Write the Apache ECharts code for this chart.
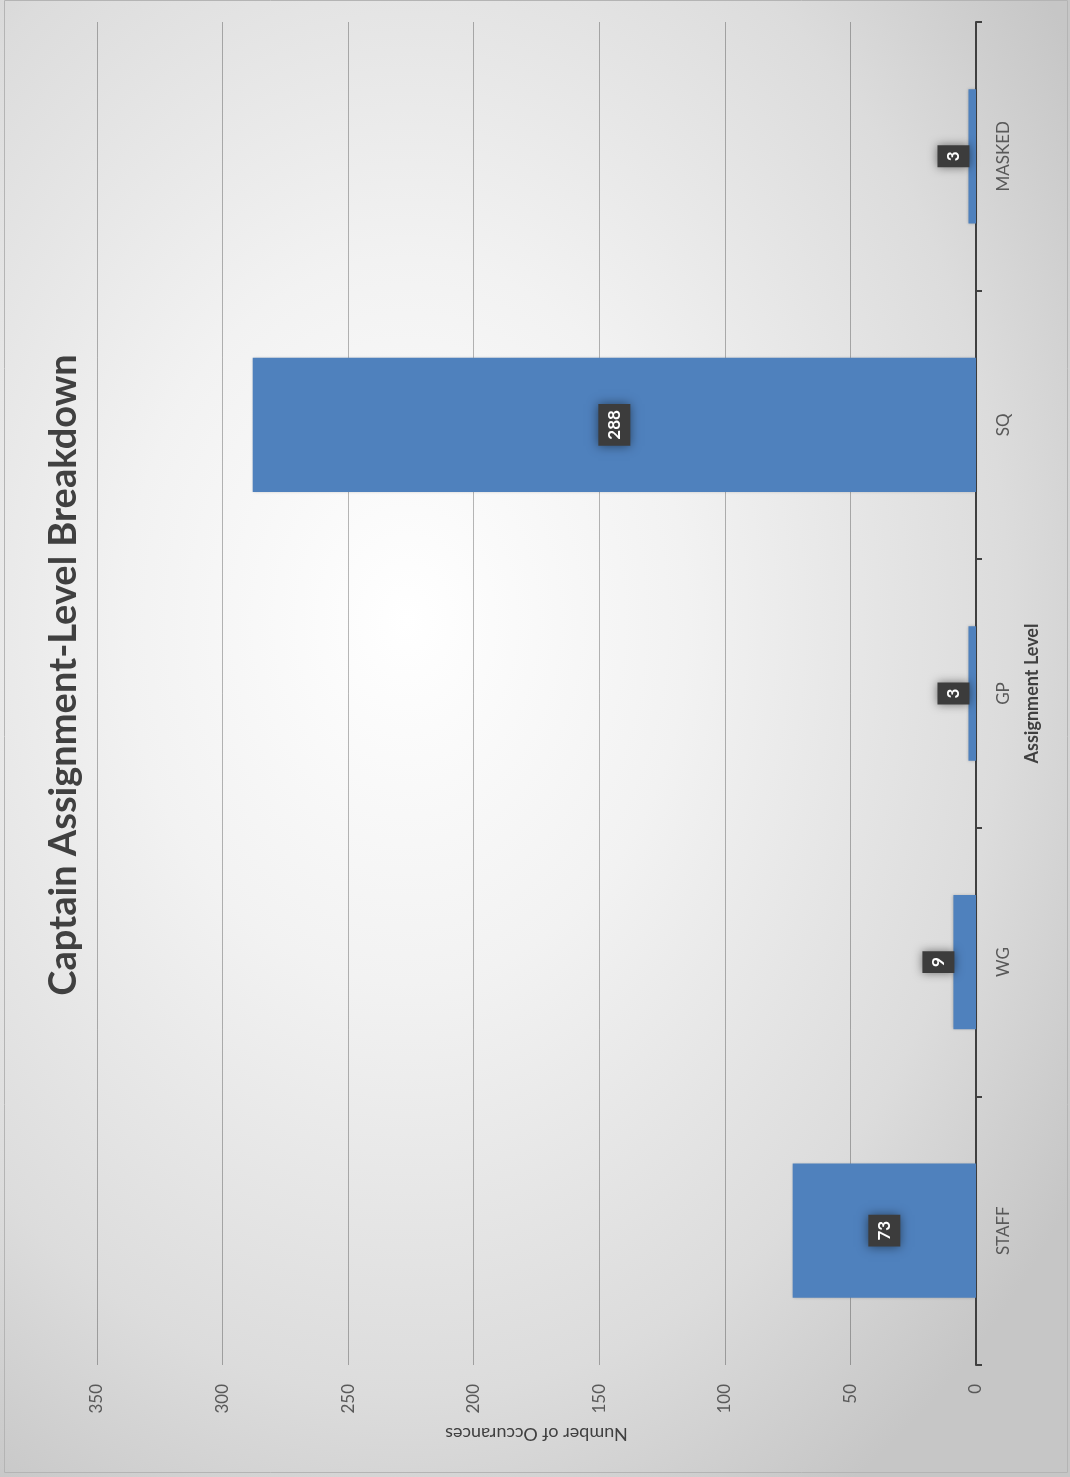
<!DOCTYPE html>
<html>
<head>
<meta charset="utf-8">
<script src="https://cdn.jsdelivr.net/npm/echarts@6/dist/echarts.min.js"></script>
<style>
  html, body { margin: 0; padding: 0; }
  body { width: 1070px; height: 1477px; background: #d4d4d4; }
  #chart {
    width: 1070px; height: 1477px;
    background: radial-gradient(ellipse 75% 70% at 38% 42%, #ffffff 0%, #f2f2f2 35%, #dcdcdc 75%, #c6c6c6 100%);
  }
</style>
</head>
<body>
<div id="chart"></div>
<script>
// Captain assignment levels and how often each occurs
const categories = ['STAFF', 'WG', 'GP', 'SQ', 'MASKED'];
const occurrences = [73, 9, 3, 288, 3];
const valueTicks = { min: 0, max: 350, interval: 50 };

const titleText = 'Captain Assignment-Level Breakdown';
const valueAxisName = 'Number of Occurances';
const categoryAxisName = 'Assignment Level';

const W = 1070, H = 1477;
const grid = { left: 97, right: 94, top: 22, bottom: 112 };
const pxPerUnit = (W - grid.left - grid.right) / valueTicks.max;

const FONT = 'Lato, "Open Sans", sans-serif';

// short bars get their value tag pushed just past the bar end;
// the label is turned 90°, so its own y axis runs along the value axis
function labelFor(v) {
  const lab = {};
  const barPx = v * pxPerUnit;
  if (barPx < 40) {
    lab.offset = [0, -(barPx / 2 + 15)];
  }
  return lab;
}

const chart = echarts.init(document.getElementById('chart'), null, { renderer: 'canvas' });

chart.setOption({
  backgroundColor: 'transparent',
  animation: false,
  grid: grid,
  graphic: [
    {
      type: 'rect',
      shape: { x: 4.5, y: 0.5, width: 1063, height: 1472 },
      style: { fill: 'none', stroke: '#b4b4b4', lineWidth: 1 },
      silent: true
    },
    {
      type: 'text',
      x: 64,
      y: 675,
      rotation: Math.PI / 2,
      style: {
        text: titleText,
        font: 'bold 38px ' + FONT,
        fill: '#404040',
        align: 'center',
        verticalAlign: 'middle'
      },
      silent: true
    }
  ],
  xAxis: {
    type: 'value',
    inverse: true,
    position: 'bottom',
    min: valueTicks.min,
    max: valueTicks.max,
    interval: valueTicks.interval,
    axisLine: { show: false },
    axisTick: { show: false },
    axisLabel: {
      rotate: 90,
      margin: 19,
      fontFamily: FONT,
      fontSize: 17,
      color: '#595959'
    },
    splitLine: { lineStyle: { color: 'rgba(0,0,0,0.28)', width: 1 } },
    name: valueAxisName,
    nameLocation: 'middle',
    nameRotate: 180,
    nameGap: 60,
    nameTextStyle: { fontFamily: FONT, fontSize: 18, color: '#404040', fontWeight: 'normal' }
  },
  yAxis: {
    type: 'category',
    position: 'right',
    data: categories,
    axisLine: { show: true, lineStyle: { color: '#404040', width: 2 } },
    axisTick: { show: true, length: 6, lineStyle: { color: '#404040', width: 2 } },
    axisLabel: {
      rotate: 90,
      margin: 19,
      fontFamily: FONT,
      fontSize: 17,
      color: '#595959'
    },
    name: categoryAxisName,
    nameLocation: 'middle',
    nameRotate: 90,
    nameGap: 47,
    nameTextStyle: { fontFamily: FONT, fontSize: 18, fontWeight: 'bold', color: '#404040' }
  },
  series: [{
    type: 'bar',
    barWidth: '50%',
    data: occurrences.map(v => ({ value: v, label: labelFor(v) })),
    itemStyle: {
      color: '#4f81bd',
      shadowBlur: 3,
      shadowColor: 'rgba(0,0,0,0.25)'
    },
    label: {
      show: true,
      position: 'inside',
      rotate: 90,
      fontFamily: FONT,
      fontSize: 17,
      fontWeight: 'bold',
      lineHeight: 18,
      color: '#ffffff',
      backgroundColor: '#3c3c3c',
      padding: [7, 6],
      shadowBlur: 10,
      shadowColor: 'rgba(0,0,0,0.5)'
    }
  }]
});
</script>
</body>
</html>
